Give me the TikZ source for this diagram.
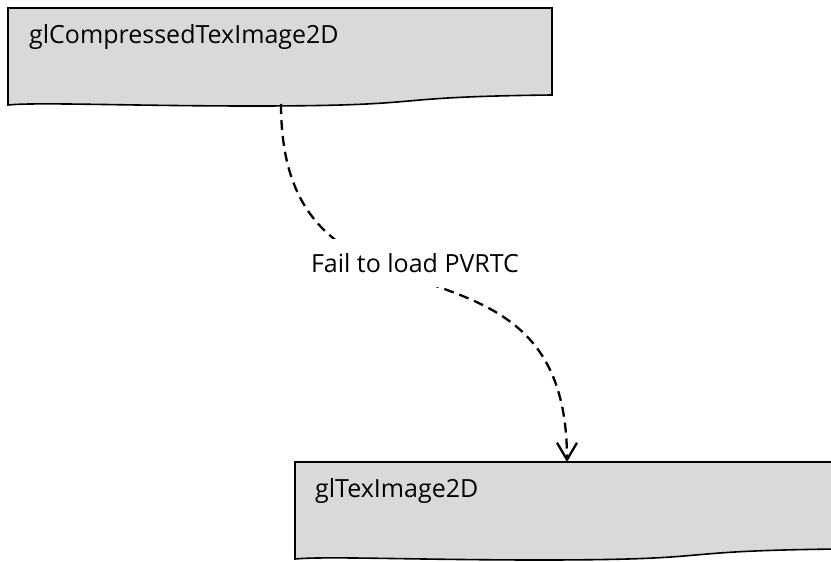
\documentclass[tikz,border=0pt]{standalone}
\usepackage{fontspec}
\setmainfont{Open Sans}
\usetikzlibrary{arrows.meta}
\definecolor{docfill}{RGB}{217,217,217}
\tikzset{
  docshape/.style={draw=black, fill=docfill, line width=1.6pt},
  doclabel/.style={anchor=base west, inner sep=0pt, font=\fontsize{25}{30}\selectfont},
  flowlabel/.style={fill=white, inner xsep=6pt, inner ysep=14pt, font=\fontsize{25}{30}\selectfont},
  flow/.style={line width=2.3pt, dash pattern=on 10pt off 6pt,
    -{Straight Barb[length=17pt,width=20pt,line width=2.3pt]}}
}
\begin{document}
\begin{tikzpicture}[x=1pt,y=-1pt]
\useasboundingbox (0,0) rectangle (831,562);
\clip (0,0) rectangle (831,562);
% document shape with a wavy lower edge
\newcommand{\docbox}[2]{%
  \path[docshape] (#1,#2) -- ++(544,0) -- ++(0,87)
    .. controls +(-180,2) and +(190,0) .. ++(-300,11)
    .. controls +(-120,0) and +(30,-3) .. ++(-244,-1) -- cycle;}
\docbox{8}{8}
\docbox{295}{462}
\node[doclabel] (src) at (29,43) {glCompressedTexImage2D};
\node[doclabel] (dst) at (315,497) {glTexImage2D};
\coordinate (srcout) at (281,104);
\coordinate (dstin) at (567,462);
\draw[flow] (srcout) .. controls (281,360) and (567,204) .. (dstin);
\node[flowlabel] (why) at (415,263) {Fail to load PVRTC};
\end{tikzpicture}
\end{document}
